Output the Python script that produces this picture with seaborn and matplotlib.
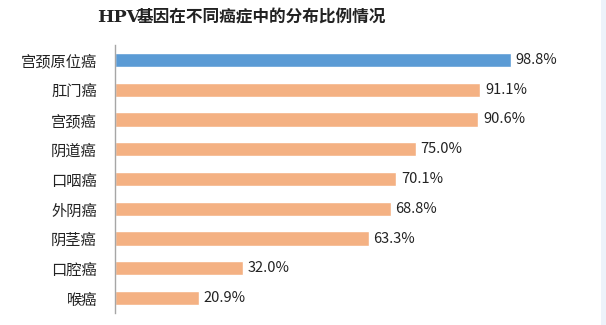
import matplotlib
matplotlib.use("Agg")
import matplotlib.pyplot as plt
import seaborn as sns
import pandas as pd
from matplotlib.patches import Rectangle

categories = ["宫颈原位癌", "肛门癌", "宫颈癌", "阴道癌", "口咽癌", "外阴癌", "阴茎癌", "口腔癌", "喉癌"]
values = [98.8, 91.1, 90.6, 75.0, 70.1, 68.8, 63.3, 32.0, 20.9]
groups = ["hi", "n", "n", "n", "n", "n", "n", "n", "n"]
palette = {"hi": "#5B9BD5", "n": "#F4B183"}

sns.set_theme(style="white")
plt.rcParams['font.family'] = ['Noto Sans CJK SC', 'DejaVu Sans']

df = pd.DataFrame({"cat": categories, "val": values, "grp": groups})

fig = plt.figure(figsize=(6.06, 3.25), dpi=100)
fig.patch.set_facecolor("white")
fig.patches.append(Rectangle((601/606, 0), 5/606, 1, transform=fig.transFigure,
                             facecolor="#EDF2FA", edgecolor="none", zorder=0))
ax = fig.add_axes([115/606, 1 - 313/325, (596-115)/606, (313-45)/325])
ax.patch.set_alpha(0)
sns.barplot(data=df, y="cat", x="val", hue="grp", palette=palette, orient="h",
            width=0.48, dodge=False, legend=False, ax=ax, saturation=1)
ax.set_xlim(0, 120)
ax.set_ylim(8.5, -0.5)
ax.set_xlabel("")
ax.set_ylabel("")
ax.set_xticks([])
for s in ["top", "right", "bottom"]:
    ax.spines[s].set_visible(False)
ax.spines["left"].set_color("#A6A6A6")
ax.spines["left"].set_linewidth(1.0)
ax.tick_params(axis="y", length=0, pad=13, labelsize=11, labelcolor="#222222")
for i, v in enumerate(values):
    ax.text(v + 1.2, i, f"{v:.1f}%", va="center", ha="left", fontsize=10.5, color="#222222")

fig.text(0.16, 0.945, "HPV", fontsize=12.5, fontweight="bold", family=["DejaVu Serif"], ha="left", va="center", color="#222222")
fig.text(0.225, 0.945, "基因在不同癌症中的分布比例情况", fontsize=12, fontweight="bold", ha="left", va="center", color="#222222")

fig.savefig("out.png", dpi=100, facecolor="white")
